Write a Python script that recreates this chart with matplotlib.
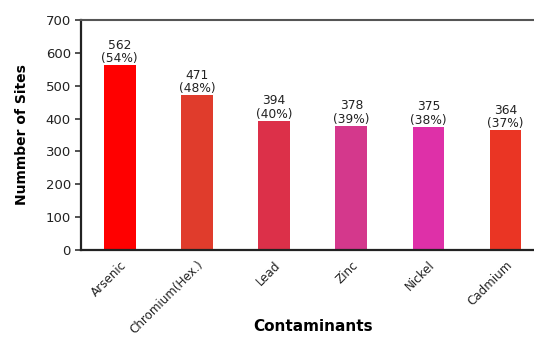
import matplotlib
matplotlib.use("Agg")
import matplotlib.pyplot as plt

categories = ["Arsenic", "Chromium(Hex.)", "Lead", "Zinc", "Nickel", "Cadmium"]
values = [562, 471, 394, 378, 375, 364]
percents = ["54%", "48%", "40%", "39%", "38%", "37%"]
colors = ["#FF0000", "#E03C2C", "#DC3049", "#D4388C", "#DE30A8", "#EA3524"]
yticks = [0, 100, 200, 300, 400, 500, 600, 700]

plt.rcParams['font.family'] = ['DejaVu Sans']
fig = plt.figure(figsize=(5.34, 3.37), dpi=100)
ax = fig.add_axes([0.152, 0.258, 0.86, 0.683])

x = range(len(categories))
ax.bar(x, values, width=0.41, color=colors)
for xi, v, p in zip(x, values, percents):
    ax.text(xi, v, f"{v}\n({p})", ha="center", va="bottom", fontsize=8.8,
            color="#222222", linespacing=1.05)

ax.set_xlim(-0.5, 5.45)
ax.set_ylim(0, 700)
ax.set_yticks(yticks)
ax.set_yticklabels([str(t) for t in yticks], fontsize=9.5, color="#222222")
ax.set_xticks(list(x))
ax.set_xticklabels(categories, rotation=45, ha="right", rotation_mode="anchor",
                   fontsize=8.6, color="#222222")
ax.tick_params(axis="x", length=0, pad=6)
ax.tick_params(axis="y", length=4, width=1.2, direction="out", color="#333333")

for s in ["left", "bottom"]:
    ax.spines[s].set_linewidth(1.6)
    ax.spines[s].set_color("#222222")
ax.spines["top"].set_linewidth(1.5)
ax.spines["top"].set_color("#555555")
ax.spines["right"].set_visible(False)

ax.set_ylabel("Nummber of Sites", fontsize=10, fontweight="bold", labelpad=12)
fig.text(0.586, 0.03, "Contaminants", fontsize=11, fontweight="heavy",
         ha="center", va="center")

fig.savefig("out.png", dpi=100)
